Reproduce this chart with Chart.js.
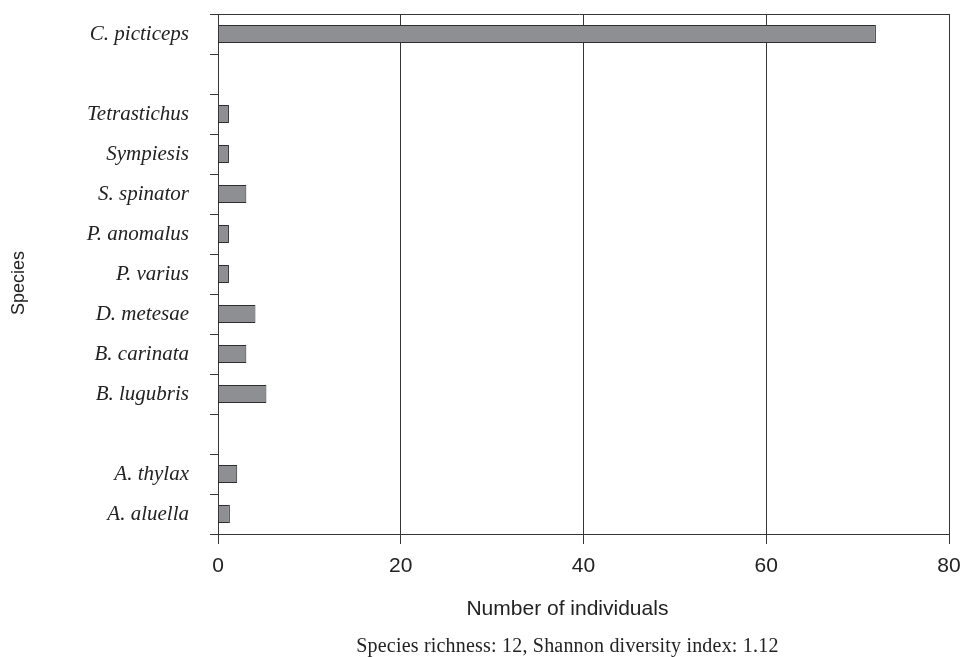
<!DOCTYPE html>
<html>
<head>
<meta charset="utf-8">
<script src="https://cdn.jsdelivr.net/npm/chart.js@4/dist/chart.umd.min.js"></script>
<style>
  html, body { margin: 0; padding: 0; background: #ffffff; }
  #wrap { width: 964px; height: 657px; position: relative; }
</style>
</head>
<body>
<div id="wrap"><canvas id="chart" width="964" height="657"></canvas></div>
<script>
// Species (top to bottom); empty strings are spacer rows between groups
const species = [
  'C. picticeps', '',
  'Tetrastichus', 'Sympiesis', 'S. spinator', 'P. anomalus', 'P. varius',
  'D. metesae', 'B. carinata', 'B. lugubris', '',
  'A. thylax', 'A. aluella'
];
// Number of individuals collected per species
const individuals = [72, null, 1.2, 1.2, 3.1, 1.2, 1.2, 4.1, 3.1, 5.3, null, 2.1, 1.3];
const xTicks = [0, 20, 40, 60, 80];
const xTitle = 'Number of individuals';
const yTitle = 'Species';
const caption = 'Species richness: 12, Shannon diversity index: 1.12';

const lineColor = '#363636';
const textColor = '#222222';

// Frame top edge, axis titles and caption
const decorations = {
  id: 'decorations',
  afterDraw(chart) {
    const { ctx, chartArea: a } = chart;
    ctx.save();
    ctx.strokeStyle = lineColor;
    ctx.lineWidth = 1;
    ctx.beginPath();
    ctx.moveTo(a.left - 8, a.top + 0.5);
    ctx.lineTo(a.right, a.top + 0.5);
    ctx.stroke();

    ctx.fillStyle = textColor;
    ctx.textAlign = 'center';
    ctx.textBaseline = 'middle';

    const cx = a.left + (a.right - a.left) * 0.478;
    ctx.font = '21px "Liberation Sans", Arial, sans-serif';
    ctx.fillText(xTitle, cx, a.bottom + 75);

    ctx.font = '20px "Liberation Serif", "DejaVu Serif", serif';
    ctx.letterSpacing = '0.2px';
    ctx.fillText(caption, cx, a.bottom + 113);
    ctx.letterSpacing = '0px';

    ctx.font = '18px "Liberation Sans", Arial, sans-serif';
    ctx.translate(19, (a.top + a.bottom) / 2 + 9);
    ctx.rotate(-Math.PI / 2);
    ctx.fillText(yTitle, 0, 0);
    ctx.restore();
  }
};

// x tick labels, placed with the linear scale
const xTickLabels = {
  id: 'xTickLabels',
  afterDraw(chart) {
    const { ctx, chartArea: a } = chart;
    const xs = chart.scales.x;
    ctx.save();
    ctx.fillStyle = textColor;
    ctx.textAlign = 'center';
    ctx.textBaseline = 'middle';
    ctx.font = '21px "Liberation Sans", Arial, sans-serif';
    xTicks.forEach(v => ctx.fillText(String(v), xs.getPixelForValue(v), a.bottom + 32));
    ctx.restore();
  }
};

new Chart(document.getElementById('chart'), {
  type: 'bar',
  data: {
    labels: species,
    datasets: [{
      data: individuals,
      backgroundColor: '#8e8f93',
      borderColor: '#2e2e2e',
      borderWidth: 1,
      borderSkipped: false,
      barPercentage: 0.45,
      categoryPercentage: 1
    }]
  },
  options: {
    indexAxis: 'y',
    responsive: false,
    animation: false,
    events: [],
    layout: { padding: { top: 14, right: 15, left: 0, bottom: 0 } },
    plugins: {
      legend: { display: false },
      tooltip: { enabled: false }
    },
    scales: {
      x: {
        type: 'linear',
        min: 0,
        max: 80,
        afterFit(scale) {
          scale.height = 123;
          scale.paddingLeft = 0;
          scale.paddingRight = 0;
        },
        afterBuildTicks(scale) { scale.ticks = xTicks.map(v => ({ value: v })); },
        border: { display: true, color: lineColor, width: 1 },
        grid: {
          color: lineColor,
          lineWidth: 1,
          drawOnChartArea: true,
          drawTicks: true,
          tickLength: 10
        },
        ticks: { display: false }
      },
      y: {
        type: 'category',
        offset: true,
        afterFit(scale) {
          scale.width = 218;
          scale.paddingTop = 0;
          scale.paddingBottom = 0;
        },
        border: { display: true, color: lineColor, width: 1 },
        grid: {
          offset: true,
          color: lineColor,
          lineWidth: 1,
          drawOnChartArea: false,
          drawTicks: true,
          tickLength: 8
        },
        ticks: {
          color: textColor,
          padding: 21,
          font: { family: '"Liberation Serif", "DejaVu Serif", serif', size: 21, style: 'italic' }
        }
      }
    }
  },
  plugins: [decorations, xTickLabels]
});
</script>
</body>
</html>
